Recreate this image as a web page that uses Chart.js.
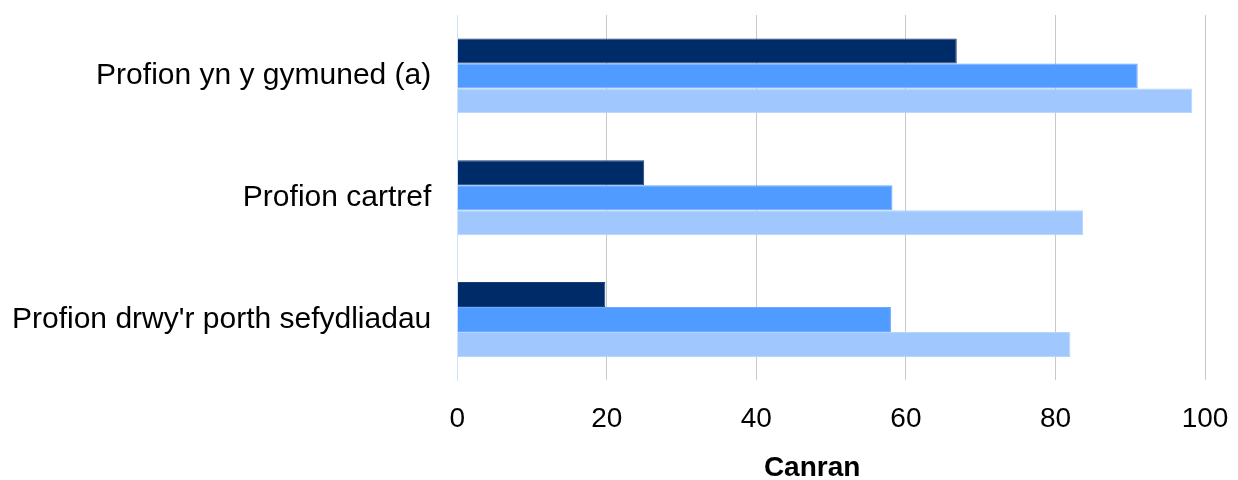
<!DOCTYPE html>
<html>
<head>
<meta charset="utf-8">
<script src="https://cdn.jsdelivr.net/npm/chart.js@4/dist/chart.umd.min.js"></script>
<style>
html,body{margin:0;padding:0;background:#fff;}
#wrap{width:1238px;height:480px;}
</style>
</head>
<body>
<div id="wrap"><canvas id="c" width="1238" height="480"></canvas></div>
<script>
const categories = ["Profion yn y gymuned (a)", "Profion cartref", "Profion drwy'r porth sefydliadau"];
const seriesA = [66.8, 25.0, 19.8];
const seriesB = [91.0, 58.2, 58.0];
const seriesC = [98.3, 83.7, 82.0];
const xTicks = [0, 20, 40, 60, 80, 100];
const xTitle = "Canran";

// Axis title drawn below the tick labels, slightly left of the plot centre as in the original
const axisTitlePlugin = {
  id: 'axisTitle',
  afterDraw(chart) {
    const s = chart.scales.x;
    const ctx = chart.ctx;
    ctx.save();
    ctx.font = 'bold 28px "Liberation Sans"';
    ctx.fillStyle = '#000';
    ctx.textAlign = 'center';
    ctx.textBaseline = 'middle';
    ctx.fillText(xTitle, (s.left + s.right) / 2 - 19, s.bottom + 35);
    ctx.restore();
  }
};

new Chart(document.getElementById('c'), {
  type: 'bar',
  data: {
    labels: categories,
    datasets: [
      {label: 'A', data: seriesA, backgroundColor: '#002b69', borderColor: '#1d3f78', borderWidth: 1},
      {label: 'B', data: seriesB, backgroundColor: '#4f9bff', borderColor: '#6aa9ff', borderWidth: 1},
      {label: 'C', data: seriesC, backgroundColor: '#a0c8ff', borderColor: '#b5d4ff', borderWidth: 1}
    ]
  },
  plugins: [axisTitlePlugin],
  options: {
    indexAxis: 'y',
    responsive: false,
    animation: false,
    devicePixelRatio: 1,
    layout: {padding: {top: 15, right: 33, left: 8, bottom: 47}},
    plugins: {legend: {display: false}, tooltip: {enabled: false}},
    datasets: {bar: {barPercentage: 1.0, categoryPercentage: 0.615}},
    scales: {
      x: {
        min: xTicks[0], max: xTicks[xTicks.length - 1],
        afterBuildTicks: (s) => { s.ticks = xTicks.map(v => ({value: v})); },
        ticks: {color: '#000', font: {family: 'Liberation Sans', size: 28}, padding: 22},
        grid: {color: '#c8c8c8', lineWidth: 1, drawTicks: false},
        border: {display: false},
        title: {display: false},
        afterFit: (s) => { s.height -= 25; s.paddingLeft = 0; s.paddingRight = 0; }
      },
      y: {
        ticks: {color: '#000', font: {family: 'Liberation Sans', size: 30}, padding: 26},
        grid: {display: false, drawTicks: false},
        border: {display: true, color: '#cfe2ff', width: 1},
        afterFit: (s) => { s.paddingTop = 0; s.paddingBottom = 0; s.width -= 22; }
      }
    }
  }
});
</script>
</body>
</html>
